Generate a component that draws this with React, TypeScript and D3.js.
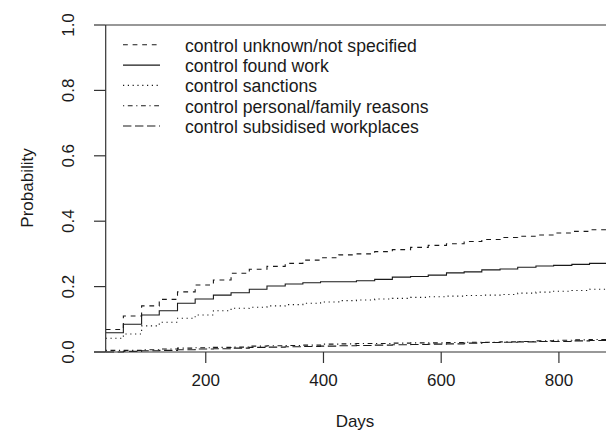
import React from "react";
import * as d3 from "d3";

// Event times (days) – monthly steps
const days = [30, 60, 91, 121, 152, 182, 213, 243, 274, 304, 335, 365, 395, 426, 456, 487, 517, 548, 578, 609, 639, 669, 700, 730, 761, 791, 822, 852];
const endDay = 880;

const unknownNotSpecified = [0.069, 0.110, 0.141, 0.161, 0.184, 0.205, 0.220, 0.241, 0.253, 0.262, 0.271, 0.281, 0.288, 0.297, 0.300, 0.307, 0.313, 0.320, 0.326, 0.331, 0.338, 0.344, 0.350, 0.354, 0.358, 0.364, 0.369, 0.374];
const foundWork = [0.059, 0.085, 0.113, 0.126, 0.149, 0.162, 0.174, 0.181, 0.192, 0.202, 0.208, 0.212, 0.215, 0.215, 0.218, 0.222, 0.229, 0.231, 0.235, 0.242, 0.245, 0.251, 0.254, 0.259, 0.263, 0.265, 0.268, 0.271];
const sanctions = [0.042, 0.055, 0.080, 0.091, 0.103, 0.113, 0.126, 0.134, 0.137, 0.141, 0.145, 0.149, 0.153, 0.157, 0.159, 0.162, 0.164, 0.167, 0.169, 0.171, 0.173, 0.174, 0.176, 0.180, 0.183, 0.186, 0.188, 0.192];
const personalFamily = [0.005, 0.005, 0.007, 0.009, 0.012, 0.013, 0.014, 0.015, 0.018, 0.019, 0.020, 0.021, 0.024, 0.025, 0.026, 0.026, 0.027, 0.028, 0.028, 0.029, 0.030, 0.030, 0.031, 0.032, 0.034, 0.036, 0.037, 0.038];
const subsidised = [0.000, 0.002, 0.004, 0.005, 0.007, 0.009, 0.010, 0.012, 0.014, 0.015, 0.016, 0.017, 0.018, 0.019, 0.020, 0.021, 0.022, 0.023, 0.024, 0.025, 0.027, 0.029, 0.030, 0.031, 0.032, 0.032, 0.034, 0.035];

const seriesNames = [
  "control unknown/not specified",
  "control found work",
  "control sanctions",
  "control personal/family reasons",
  "control subsidised workplaces",
];
const seriesValues = [unknownNotSpecified, foundWork, sanctions, personalFamily, subsidised];
const dashes = ["4.8 4.8", "", "1.2 3.6", "1.2 3.6 4.8 3.6", "8.4 3.6"];

const xTicks = [200, 400, 600, 800];
const yTicks = [0, 0.2, 0.4, 0.6, 0.8, 1.0];

const W = 606;
const H = 431;
const left = 105.7;
const right = 606;
const top = 25;
const bottom = 352;
const FONT = "'Liberation Sans', Arial, Helvetica, sans-serif";
const FS = 17;
const LEGEND_FS = 17.6;

export default function App() {
  const x = d3.scaleLinear().domain([30, endDay]).range([left, right]);
  const y = d3.scaleLinear().domain([0, 1]).range([bottom, top]);
  const line = d3
    .line<[number, number]>()
    .x((d) => x(d[0]))
    .y((d) => y(d[1]))
    .curve(d3.curveStepAfter);

  const ink = "#1a1a1a";
  const legendRow0 = 44.8;
  const legendStep = 20.3;

  return (
    <svg
      width={W}
      height={H}
      style={{ position: "absolute", left: 0, top: 0, background: "#fff" }}
      fontFamily={FONT}
    >
      <rect x={0} y={0} width={W} height={H} fill="#fff" />
      <defs>
        <clipPath id="plotclip">
          <rect x={left} y={top - 1} width={right - left + 2} height={bottom - top + 2} />
        </clipPath>
      </defs>

      {/* curves */}
      <g clipPath="url(#plotclip)">
        {seriesValues.map((vals, i) => {
          const pts: [number, number][] = days.map((d, k) => [d, vals[k]] as [number, number]);
          pts.push([endDay, vals[vals.length - 1]]);
          return (
            <path
              key={i}
              d={line(pts) || ""}
              fill="none"
              stroke={ink}
              strokeWidth={1.1}
              strokeDasharray={dashes[i] || undefined}
            />
          );
        })}
      </g>

      {/* box */}
      <line x1={left} x2={left} y1={top} y2={bottom} stroke="#333" strokeWidth={1.2} />
      <line x1={left} x2={W} y1={top} y2={top} stroke="#333" strokeWidth={1.2} />
      <line x1={94} x2={W} y1={bottom} y2={bottom} stroke="#333" strokeWidth={1.2} />

      {/* y axis */}
      {yTicks.map((t) => (
        <g key={t}>
          <line x1={94} x2={left} y1={y(t)} y2={y(t)} stroke="#333" strokeWidth={1.2} />
          <text
            transform={`translate(74,${y(t)}) rotate(-90)`}
            textAnchor="middle"
            fontSize={FS}
            fill={ink}
          >
            {d3.format(".1f")(t)}
          </text>
        </g>
      ))}
      <text transform={`translate(33,188) rotate(-90)`} textAnchor="middle" fontSize={FS} fill={ink}>
        Probability
      </text>

      {/* x axis */}
      {xTicks.map((t) => (
        <g key={t}>
          <line x1={x(t)} x2={x(t)} y1={bottom} y2={bottom + 11} stroke="#333" strokeWidth={1.2} />
          <text x={x(t)} y={386} textAnchor="middle" fontSize={FS} fill={ink}>
            {t}
          </text>
        </g>
      ))}
      <text x={355} y={427} textAnchor="middle" fontSize={FS} fill={ink}>
        Days
      </text>

      {/* legend */}
      {seriesNames.map((name, i) => {
        const ry = legendRow0 + i * legendStep;
        return (
          <g key={name}>
            <line
              x1={123}
              x2={160}
              y1={ry}
              y2={ry}
              stroke={ink}
              strokeWidth={1.1}
              strokeDasharray={dashes[i] || undefined}
            />
            <text x={185} y={ry + 7} fontSize={LEGEND_FS} fill={ink}>
              {name}
            </text>
          </g>
        );
      })}
    </svg>
  );
}
